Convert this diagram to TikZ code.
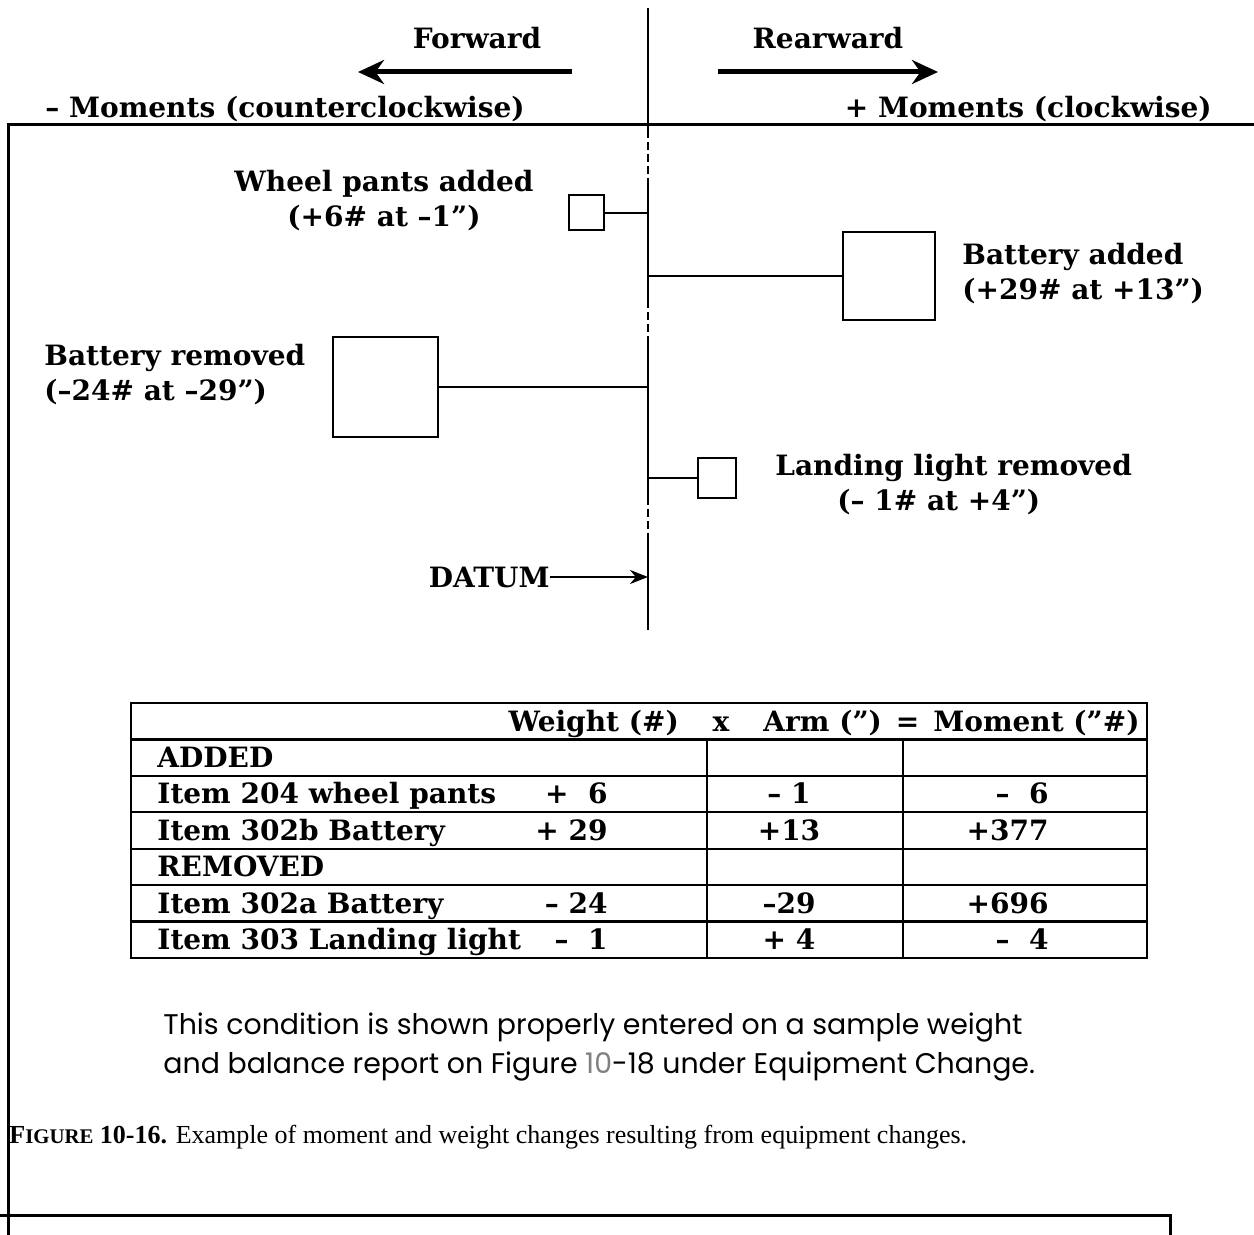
\documentclass[tikz,border=0pt]{standalone}
\usepackage{fontspec}
\setmainfont{DejaVu Serif}
\newfontfamily\notefont{Poppins}
\newfontfamily\capfont{Liberation Serif}
\usetikzlibrary{arrows.meta}

\begin{document}
\begin{tikzpicture}[
    x=0.5pt, y=-0.5pt,
    wbox/.style={draw, line width=1pt, rectangle, inner sep=0pt, outer sep=0pt},
    conn/.style={line width=1pt},
    datum/.style={line width=1.3pt},
    itemlbl/.style={font=\bfseries\fontsize{14}{17.5}\selectfont, inner sep=0pt},
    tabtxt/.style={font=\bfseries\fontsize{14}{16}\selectfont, inner sep=0pt},
    tabline/.style={line width=1.2pt},
    frame/.style={line width=1.5pt},
    bigarrow/.style={line width=2.5pt, -{Stealth[length=13pt, width=12pt]}},
  ]
  \useasboundingbox (0,0) rectangle (1254,1235);

  % page frame
  \draw[frame] (1254,125) -- (8,125) -- (8,1235);
  \draw[frame] (0,1215) -- (1170,1215) -- (1170,1235);

  % datum line, dashed between the items
  \coordinate (dtop) at (648,8);
  \coordinate (dbot) at (648,630);
  \foreach \a/\b in {8/130, 180/300, 337/497, 533/630}
    \draw[datum] (648,\a) -- (648,\b);
  \foreach \a/\b in {130/180, 300/337, 497/533}
    \draw[datum, dash pattern=on 4pt off 2pt] (648,\a) -- (648,\b);

  % direction headings
  \node[itemlbl] (fwd) at (477,38) {Forward};
  \node[itemlbl] (rwd) at (828,38) {Rearward};
  \coordinate (fwdtail) at (572,72);
  \coordinate (fwdhead) at (358,72);
  \coordinate (rwdtail) at (718,72);
  \coordinate (rwdhead) at (938,72);
  \draw[bigarrow] (fwdtail) -- (fwdhead);
  \draw[bigarrow] (rwdtail) -- (rwdhead);
  \node[itemlbl, anchor=base west] (negmom) at (45,118) {-- Moments (counterclockwise)};
  \node[itemlbl, anchor=base east] (posmom) at (1212,118) {+ Moments (clockwise)};

  % weights and arms
  \node[wbox, minimum width=17.5pt, minimum height=17.5pt] (wheel) at (586,213) {};
  \node[wbox, minimum width=46pt, minimum height=44pt] (batadd) at (889,276) {};
  \node[wbox, minimum width=52.5pt, minimum height=50pt] (batrem) at (385.5,387) {};
  \node[wbox, minimum width=19pt, minimum height=20pt] (light) at (717,478) {};
  \draw[conn] (wheel.east) -- (wheel.east -| dtop);
  \draw[conn] (batadd.west) -- (batadd.west -| dtop);
  \draw[conn] (batrem.east) -- (batrem.east -| dtop);
  \draw[conn] (light.west) -- (light.west -| dtop);

  \node[itemlbl, align=center] (wheellbl) at (384,201) {Wheel pants added\\(+6\# at --1'')};
  \node[itemlbl, align=left, anchor=west] (bataddlbl) at (962,274) {Battery added\\(+29\# at +13'')};
  \node[itemlbl, align=left, anchor=west] (batremlbl) at (44,375) {Battery removed\\(--24\# at --29'')};
  \node[itemlbl, align=left, anchor=west] (lightlbl) at (775,485) {Landing light removed\\\hspace*{31pt}(-- 1\# at +4'')};

  \node[itemlbl, anchor=east] (datumlbl) at (550,577) {DATUM};
  \draw[conn, -{Stealth[length=9pt, width=7pt]}] (datumlbl.east) -- (datumlbl.east -| dbot);

  % table
  \draw[tabline] (131,703) rectangle (1147,958);
  \foreach \r in {1,...,6}
    \draw[tabline] (131,{703+36.43*\r}) -- (1147,{703+36.43*\r});
  \foreach \c in {707,903}
    \draw[tabline] (\c,739.4) -- (\c,958);
  \node[tabtxt, anchor=base east] (thead) at (1140,731)
    {Weight (\#)\hspace{17pt}x\hspace{17pt}Arm ('')\hspace{7pt}=\hspace{7pt}Moment (''\#)};
  \foreach \name/\wt/\arm/\mom [count=\i] in {
      ADDED///,
      Item 204 wheel pants/+\ \ 6/-- 1/--\ \ 6,
      Item 302b Battery/+ 29/+13/+377,
      REMOVED///,
      Item 302a Battery/-- 24/--29/+696,
      Item 303 Landing light/--\ \ 1/+ 4/--\ \ 4} {
    \node[tabtxt, anchor=base west] (item\i) at (157,{703+36.43*\i+28}) {\name};
    \node[tabtxt, anchor=base east] (wt\i) at (608,{703+36.43*\i+28}) {\wt};
    \node[tabtxt, anchor=base] (arm\i) at (789,{703+36.43*\i+28}) {\arm};
    \node[tabtxt, anchor=base east] (mom\i) at (1049,{703+36.43*\i+28}) {\mom};
  }

  % note and caption
  \node[anchor=west, align=left, inner sep=0pt, font=\notefont\fontsize{14.2}{19.5}\selectfont] (note) at (163,1047)
    {This condition is shown properly entered on a sample weight\\
     and balance report on Figure \textcolor{gray}{10}-18 under Equipment Change.};
  \node[anchor=west, inner sep=0pt, font=\capfont\fontsize{13}{15}\selectfont] (caption) at (9,1137)
    {\textbf{F{\fontsize{10.4}{12}\selectfont IGURE} 10-16.} Example of moment and weight changes resulting from equipment changes.};
\end{tikzpicture}
\end{document}
